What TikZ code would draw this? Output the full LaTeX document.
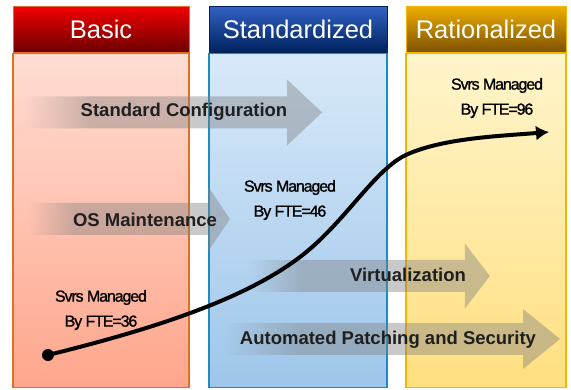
\documentclass[tikz,border=0pt]{standalone}
\usepackage{fontspec}
\setmainfont{Liberation Sans}
\newfontfamily\ftefont{Liberation Sans}[LetterSpace=-7,FakeBold=1.2]
\usetikzlibrary{arrows.meta,positioning,fadings}
\definecolor{basicedge}{HTML}{E07020}
\definecolor{basictop}{HTML}{F20000}
\definecolor{basicbot}{HTML}{6E0000}
\definecolor{basiclight}{HTML}{FFDDD3}
\definecolor{basicdeep}{HTML}{FFA68C}
\definecolor{stdedge}{HTML}{1A8CC0}
\definecolor{stdtop}{HTML}{3162C4}
\definecolor{stdbot}{HTML}{00225E}
\definecolor{stdlight}{HTML}{D8E9F9}
\definecolor{stddeep}{HTML}{9EC6EA}
\definecolor{ratedge}{HTML}{F4B400}
\definecolor{rattop}{HTML}{EFAE00}
\definecolor{ratbot}{HTML}{7E5200}
\definecolor{ratlight}{HTML}{FFF5CC}
\definecolor{ratdeep}{HTML}{FFDF80}
\definecolor{bandgray}{HTML}{7F7F7F}
\pgfdeclarehorizontalshading{tailshade}{100bp}{color(0bp)=(black); color(25bp)=(black); color(36bp)=(white); color(100bp)=(white)}
\pgfdeclarefading{tailfade}{\pgfuseshading{tailshade}}
\tikzset{head/.style={draw,line width=1pt,text=white,font=\fontsize{25.5}{25}\selectfont,minimum height=46pt,inner sep=0pt},body/.style={draw,line width=1.2pt,minimum height=334pt,inner sep=0pt},band/.style={fill=bandgray,fill opacity=.42,path fading=tailfade},bandtext/.style={font=\bfseries\fontsize{18.5}{18.5}\selectfont,text=black!88},fte/.style={font=\ftefont\fontsize{16}{25}\selectfont,align=center,text=black},trend/.style={line width=4pt,-{Latex[length=13pt,width=15pt]}}}

\begin{document}
\begin{tikzpicture}[x=1pt,y=-1pt]
\useasboundingbox (0,0) rectangle (571,389);
\node[head,draw=basicedge,top color=basictop,bottom color=basicbot,minimum width=176pt] (basic) at (101,29) {Basic};
\node[body,draw=basicedge,top color=basiclight,bottom color=basicdeep,minimum width=176pt,below=0pt of basic] (basiccol) {};
\node[head,draw=stdbot,top color=stdtop,bottom color=stdbot,minimum width=178pt] (std) at (298,29) {Standardized};
\node[body,draw=stdedge,top color=stdlight,bottom color=stddeep,minimum width=178pt,below=0pt of std] (stdcol) {};
\node[head,draw=ratedge,top color=rattop,bottom color=ratbot,minimum width=160pt] (rat) at (486,29) {Rationalized};
\node[body,draw=ratedge,top color=ratlight,bottom color=ratdeep,minimum width=160pt,below=0pt of rat] (ratcol) {};
% capability arrows: tail/neck/tip/centre line/head half-height
\foreach \tail/\neck/\tip/\mid/\hh in {25/287/322/112.5/33,30/208/230/219/32.5,250/465/490/276/32.5,225/523/560/339/30}
  \fill[band] (\tail,\mid-16) -- (\neck,\mid-16) -- (\neck,\mid-\hh) -- (\tip,\mid) -- (\neck,\mid+\hh) -- (\neck,\mid+16) -- (\tail,\mid+16) -- cycle;
\node[bandtext] (config) at (184,112) {Standard Configuration};
\node[bandtext] (osmaint) at (145,220) {OS Maintenance};
\node[bandtext] (virt) at (408,275) {Virtualization};
\node[bandtext] (patch) at (388,340) {Automated Patching and Security};
% managed servers per FTE
\coordinate (start) at (48,355);
\coordinate (bendlow) at (300,257);
\coordinate (bendhigh) at (408,154);
\coordinate (goal) at (549,132);
\draw[trend] (start) .. controls (170,325) and (250,295) .. (bendlow) .. controls (345,223) and (375,168) .. (bendhigh) .. controls (445,138) and (500,136) .. (goal);
\fill (start) circle (6pt);
\node[fte] (fte36) at (101,310) {Svrs Managed\\By FTE=36};
\node[fte] (fte46) at (290,200) {Svrs Managed\\By FTE=46};
\node[fte] (fte96) at (497,98) {Svrs Managed\\By FTE=96};
\end{tikzpicture}
\end{document}
